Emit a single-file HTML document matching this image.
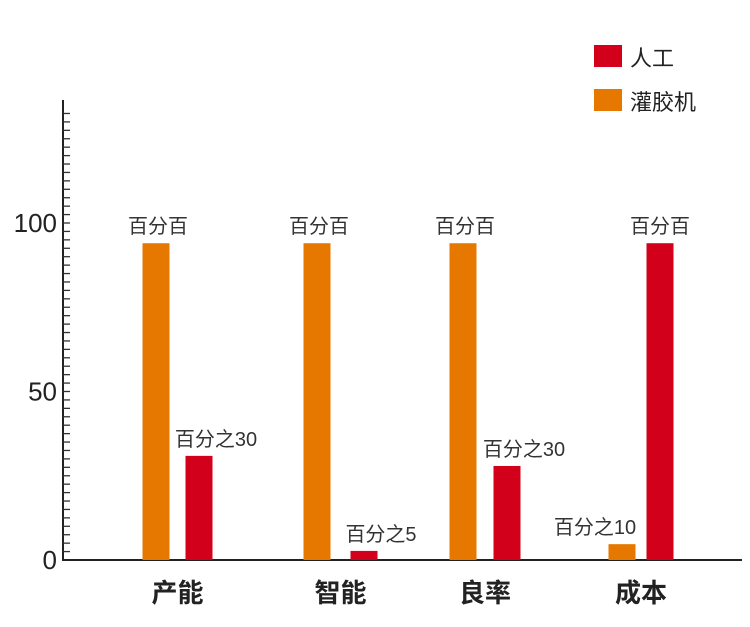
<!DOCTYPE html>
<html><head><meta charset="utf-8"><style>
body{margin:0;background:#fff}
svg{display:block;font-family:"Liberation Sans","Noto Sans CJK SC",sans-serif}
</style></head><body>
<svg id="c" width="750" height="627">
<g id="legend">
<rect x="594" y="45" width="28" height="22" fill="#d2001a"/>
<text x="630" y="66" font-size="22" fill="#222">人工</text>
<rect x="594" y="89" width="28" height="22" fill="#e67800"/>
<text x="630" y="110" font-size="22" fill="#222">灌胶机</text>
</g>
</svg>
<script>
const categories=["产能","智能","良率","成本"];
const machineVals=[94,94,94,4.7];
const manualVals=[30.9,2.7,27.9,94];
const machineLabels=["百分百","百分百","百分百","百分之10"];
const manualLabels=["百分之30","百分之5","百分之30","百分百"];
const yTicks=[0,50,100];
const NS="http://www.w3.org/2000/svg";
const svg=document.getElementById('c');
const x0=63,y0=560,k=3.37;
const y=v=>y0-v*k;
const orangeX=[156,317,463,622];
const redX=[199,364,507,660];
function mk(t,a){const e=document.createElementNS(NS,t);for(const n in a)e.setAttribute(n,a[n]);svg.appendChild(e);return e;}
let ax=mk('line',{x1:x0,y1:100,x2:x0,y2:y0,stroke:'#222','stroke-width':2});


let bx=mk('line',{x1:x0-1,y1:y0,x2:742,y2:y0,stroke:'#222','stroke-width':2});


for(let v=2.5;v<=133;v+=2.5){let t=mk('line',{x1:x0,y1:y(v),x2:x0+7,y2:y(v),stroke:'#333','stroke-width':1.3});

}
yTicks.forEach(v=>{let t=mk('text',{x:x0-6,y:y(v)+9,'font-size':26,'text-anchor':'end',fill:'#222'});t.textContent=v;

});
categories.forEach((c,i)=>{
 const cx=(orangeX[i]+redX[i])/2;
 let t=mk('text',{x:cx,y:602,'font-size':26,'font-weight':'bold','text-anchor':'middle',fill:'#222'});t.textContent=c;
 
 
 let b=mk('rect',{x:orangeX[i]-13.5,y:y(machineVals[i]),width:27,height:machineVals[i]*k,fill:'#e67800'});
 
 
 let r=mk('rect',{x:redX[i]-13.5,y:y(manualVals[i]),width:27,height:manualVals[i]*k,fill:'#d2001a'});
 
 
 let l1=mk('text',{x:orangeX[i]+(i==3?-27:2),y:y(machineVals[i])-10,'font-size':20,'text-anchor':'middle',fill:'#333'});l1.textContent=machineLabels[i];
 
 
 let l2=mk('text',{x:redX[i]+(i==3?0:17),y:y(manualVals[i])-10,'font-size':20,'text-anchor':'middle',fill:'#333'});l2.textContent=manualLabels[i];
 
 
});
</script>
</body></html>
